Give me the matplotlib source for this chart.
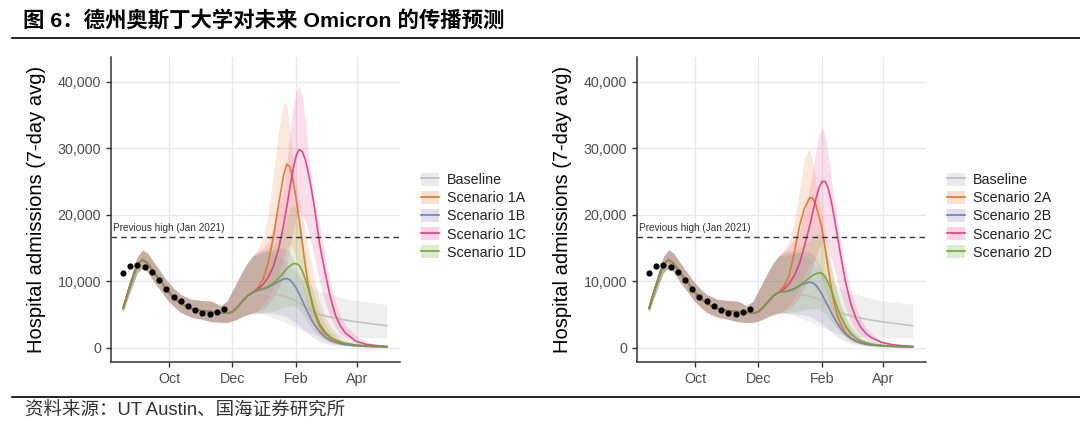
import datetime
import numpy as np
import matplotlib
matplotlib.use("Agg")
import matplotlib.pyplot as plt
import matplotlib.transforms as mtransforms
from matplotlib.patches import Patch
from matplotlib.lines import Line2D

plt.rcParams['font.family'] = ['Liberation Sans', 'Noto Sans CJK SC', 'DejaVu Sans']

# days counted from 2021-10-01
obs_days = [-45, -38, -31, -24, -17, -10, -3, 4, 11, 18, 25, 32, 39, 46, 53]
obs = [11300, 12300, 12400, 12150, 11400, 10150, 8800, 7550, 6950, 6250, 5600, 5150, 5000, 5400, 5850]

# model fit before the projections (same in every scenario)
fit_days = [-45, -40, -35, -31, -26, -21, -15, -8, -2, 5, 11, 21, 31, 41, 50, 56]
fit = [5900, 8500, 10800, 12500, 13250, 12650, 11300, 9900, 8600, 7400, 6650, 5900, 5550, 5400, 5300, 5200]
fit_lo = [5400, 7600, 9700, 11300, 12000, 11400, 9900, 8500, 7200, 6100, 5300, 4600, 4300, 3900, 3800, 3800]
fit_hi = [6500, 9300, 11900, 13700, 14700, 14200, 12800, 11300, 10000, 8800, 8000, 7300, 7100, 7000, 6300, 7000]

proj_days = [61, 66, 71, 76, 81, 86, 91, 96, 101, 106, 111, 114, 117, 120, 123, 126, 129, 132, 135, 138,
             141, 146, 151, 156, 161, 166, 171, 181, 191, 201, 211]

base = [5350, 6100, 6900, 7600, 8000, 8200, 8200, 8100, 8000, 7900, 7750, 7650, 7450, 7250, 7000, 6700, 6400,
        6100, 5800, 5550, 5300, 5000, 4800, 4600, 4450, 4300, 4150, 3900, 3700, 3500, 3300]
base_lo = [4000, 4300, 4700, 5000, 5200, 5200, 5000, 4800, 4500, 4200, 3900, 3700, 3500, 3300, 3100, 2900, 2700,
           2500, 2300, 2100, 2000, 1900, 1800, 1700, 1650, 1600, 1600, 1550, 1500, 1500, 1500]
base_hi = [8500, 10000, 11500, 12800, 13800, 14400, 14600, 14500, 14200, 13800, 13300, 12800, 12300, 11800, 11300,
           10800, 10300, 9900, 9500, 9200, 8900, 8500, 8200, 8000, 7800, 7600, 7400, 7100, 6900, 6700, 6500]

# left panel
s1a = [5350, 6100, 7000, 7800, 8300, 9000, 10300, 12800, 16600, 21500, 26000, 27600, 27200, 25300, 22500, 19300,
       15800, 12300, 9300, 6900, 5100, 3200, 2100, 1400, 1000, 750, 580, 380, 250, 200, 150]
s1a_lo = [4000, 4300, 4700, 5000, 5200, 5600, 6500, 7500, 9000, 11000, 13500, 15000, 15500, 15000, 13500, 11500,
          9500, 7500, 5800, 4400, 3300, 2000, 1300, 900, 650, 500, 400, 250, 150, 100, 80]
s1a_hi = [8500, 10000, 11500, 12800, 13800, 14800, 16500, 20000, 26000, 32500, 37000, 36500, 33000, 28500, 24500,
          22000, 20000, 17500, 15000, 12500, 10200, 7000, 4800, 3300, 2300, 1700, 1300, 800, 500, 350, 250]

s1b = [5350, 6100, 7000, 7800, 8300, 8600, 8800, 9100, 9500, 9950, 10350, 10400, 10200, 9700, 9000, 8100, 7100,
       6100, 5100, 4200, 3400, 2400, 1600, 1100, 800, 600, 450, 300, 200, 150, 100]
s1b_lo = [4000, 4300, 4700, 5000, 5200, 5200, 5200, 5200, 5100, 5000, 4800, 4600, 4300, 4000, 3700, 3300, 2900,
          2500, 2100, 1700, 1400, 1000, 700, 500, 350, 250, 200, 120, 80, 60, 50]
s1b_hi = [8500, 10000, 11500, 12800, 13800, 14000, 14300, 14500, 14800, 15000, 15000, 14800, 14300, 13500, 12500,
          11200, 9800, 8500, 7200, 6000, 5000, 3600, 2600, 1900, 1400, 1000, 800, 500, 300, 200, 150]

s1c = [5350, 6100, 7000, 7800, 8300, 8800, 9500, 10600, 12200, 14800, 18500, 21200, 24000, 26700, 28800, 29800,
       29500, 28300, 26300, 23800, 21000, 15500, 11500, 7800, 5000, 3300, 2200, 1000, 500, 300, 200]
s1c_lo = [4000, 4300, 4700, 5000, 5200, 5500, 5800, 6500, 7500, 9000, 10500, 12500, 15000, 17500, 19500, 20500,
          20000, 19000, 17500, 15500, 13500, 10000, 7000, 4700, 3100, 2100, 1500, 700, 350, 200, 150]
s1c_hi = [8500, 10000, 11500, 12800, 13800, 14500, 15000, 16000, 18000, 21000, 24000, 28000, 32000, 36000, 38500,
          39400, 38000, 34000, 29000, 25000, 22000, 18500, 14000, 10000, 7000, 4800, 3400, 1800, 900, 500, 350]

s1d = [5350, 6100, 7000, 7800, 8300, 8700, 8900, 9200, 9700, 10400, 11300, 11900, 12300, 12600, 12650, 12400,
       11600, 10300, 8800, 7300, 5500, 3600, 2400, 1600, 1200, 900, 650, 400, 250, 200, 150]
s1d_lo = [4000, 4300, 4700, 5000, 5200, 5200, 5300, 5400, 5500, 5700, 6000, 6200, 6300, 6300, 6100, 5700, 5100,
          4400, 3700, 3000, 2400, 1600, 1100, 750, 550, 400, 300, 200, 120, 100, 80]
s1d_hi = [8500, 10000, 11500, 12800, 13800, 14000, 14500, 15000, 15500, 16500, 18000, 19500, 20800, 21500, 21000,
          19000, 16500, 14000, 11500, 9300, 7500, 5200, 3600, 2500, 1800, 1300, 1000, 600, 400, 300, 200]

# right panel
s2a = [5350, 6100, 7000, 7800, 8300, 9200, 10800, 14200, 18200, 21000, 22500, 22500, 21500, 19800, 17900, 15000,
       12000, 9000, 6600, 4800, 3600, 2200, 1500, 1000, 750, 550, 450, 300, 220, 170, 150]
s2a_lo = [4000, 4300, 4700, 5000, 5200, 5600, 6500, 7500, 9000, 11000, 12500, 13000, 12800, 11800, 10300, 8700,
          7200, 5800, 4500, 3500, 2700, 1700, 1100, 750, 500, 380, 300, 200, 120, 90, 70]
s2a_hi = [8500, 10000, 11500, 12800, 13800, 14800, 16000, 19000, 23500, 28500, 30000, 28000, 25000, 22500, 20000,
          17500, 15000, 12500, 10000, 8000, 6300, 4200, 2900, 2000, 1400, 1000, 750, 450, 300, 200, 150]

s2b = [5350, 6100, 7000, 7800, 8300, 8400, 8600, 8900, 9300, 9650, 9850, 9750, 9400, 8800, 8000, 7100, 6200, 5300,
       4400, 3600, 2900, 2000, 1400, 1000, 700, 500, 400, 250, 180, 130, 100]
s2b_lo = [4000, 4300, 4700, 5000, 5200, 5200, 5200, 5100, 5000, 4900, 4700, 4500, 4200, 3900, 3600, 3200, 2800,
          2400, 2000, 1650, 1350, 950, 650, 450, 330, 240, 180, 110, 80, 60, 50]
s2b_hi = [8500, 10000, 11500, 12800, 13800, 13800, 14000, 14200, 14400, 14500, 14400, 14100, 13500, 12700, 11600,
          10400, 9100, 7900, 6700, 5600, 4700, 3400, 2500, 1800, 1300, 950, 750, 450, 300, 200, 150]

s2c = [5350, 6100, 7000, 7800, 8300, 8800, 9600, 10800, 12600, 15300, 18300, 20300, 22300, 24000, 25000, 25000,
       24000, 22000, 19500, 16800, 14000, 9800, 6600, 4400, 3000, 2100, 1500, 800, 450, 300, 200]
s2c_lo = [4000, 4300, 4700, 5000, 5200, 5500, 5800, 6500, 7500, 9000, 11000, 12300, 13800, 15000, 15800, 15800,
          15000, 13500, 11800, 10000, 8300, 5800, 3900, 2600, 1800, 1200, 850, 450, 250, 160, 120]
s2c_hi = [8500, 10000, 11500, 12800, 13800, 14500, 15200, 16200, 17500, 20500, 24000, 26500, 29500, 32000, 33200,
          32000, 29000, 25500, 22000, 19000, 16000, 11800, 8500, 6000, 4200, 3000, 2100, 1100, 600, 400, 280]

s2d = [5350, 6100, 7000, 7800, 8300, 8400, 8500, 8800, 9300, 9900, 10500, 10900, 11100, 11250, 11200, 10700, 9800,
       8600, 7300, 6000, 4800, 3200, 2100, 1400, 1000, 750, 550, 350, 250, 180, 150]
s2d_lo = [4000, 4300, 4700, 5000, 5200, 5200, 5300, 5400, 5500, 5700, 5800, 5900, 5900, 5800, 5500, 5100, 4600,
          4000, 3400, 2800, 2250, 1500, 1000, 700, 500, 380, 290, 180, 120, 90, 70]
s2d_hi = [8500, 10000, 11500, 12800, 13800, 14000, 14300, 14600, 15000, 15500, 16000, 16500, 17000, 17200, 16800,
          15500, 13800, 12000, 10000, 8300, 6800, 4800, 3300, 2300, 1600, 1200, 900, 550, 350, 250, 180]

labels1 = ["Baseline", "Scenario 1A", "Scenario 1B", "Scenario 1C", "Scenario 1D"]
labels2 = ["Baseline", "Scenario 2A", "Scenario 2B", "Scenario 2C", "Scenario 2D"]
prev_high = 16600

colores = ["#A0A0A0", "#E8762A", "#7570B3", "#E5328A", "#66A61E"]
colores_linea = ["#BDBDBD", "#E07428", "#7B78B8", "#DE3A7E", "#6FA63A"]
alfa = 0.16

day0 = datetime.date(2021, 10, 1)


def fechas(days):
    return [day0 + datetime.timedelta(days=int(d)) for d in days]


def panel(ax, series, labels):
    x = fechas(fit_days + proj_days)
    # ribbons first, then lines
    for (y, lo, hi), c in zip(series, colores):
        ax.fill_between(x, fit_lo + lo, fit_hi + hi, color=c, alpha=alfa, lw=0, zorder=1)
    for (y, lo, hi), c in zip(series, colores_linea):
        ax.plot(x, fit + y, color=c, lw=1.2, alpha=0.9, zorder=3)
    ax.scatter(fechas(obs_days), obs, s=20, color="black", zorder=5, lw=0)

    ax.axhline(prev_high, color="#333333", lw=1.0, ls=(0, (4, 3)), zorder=4)
    trans = mtransforms.blended_transform_factory(ax.transAxes, ax.transData)
    ax.text(0.008, prev_high + 600, "Previous high (Jan 2021)", transform=trans, fontsize=7.2,
            color="#333333", va="bottom", ha="left")

    ax.set_xlim(day0 - datetime.timedelta(days=57.8), day0 + datetime.timedelta(days=224.2))
    ax.set_ylim(-2200, 43760)
    ax.set_xticks(fechas([0, 61, 123, 182]))
    ax.set_xticklabels(["Oct", "Dec", "Feb", "Apr"])
    ax.set_yticks([0, 10000, 20000, 30000, 40000])
    ax.set_yticklabels(["0", "10,000", "20,000", "30,000", "40,000"])
    ax.grid(color="#E8E6EF", lw=0.9)
    ax.set_axisbelow(True)
    for s in ["top", "right"]:
        ax.spines[s].set_visible(False)
    for s in ["left", "bottom"]:
        ax.spines[s].set_color("#333333")
        ax.spines[s].set_linewidth(1.1)
    ax.tick_params(direction="out", length=3.5, width=1, color="#333333", labelcolor="#4D4D4D", labelsize=10.3)
    ax.set_ylabel("Hospital admissions (7-day avg)", fontsize=14.5)
    ax.yaxis.set_label_coords(-0.222, 0.5)

    handles = []
    for c, cl in zip(colores, colores_linea):
        handles.append((Patch(facecolor=c, alpha=0.22, lw=0), Line2D([], [], color=cl, lw=1.2)))
    return handles, labels


fig = plt.figure(figsize=(10.8, 4.36), dpi=100)
ax1 = fig.add_axes([0.1025, 0.169, 0.2679, 0.701])
ax2 = fig.add_axes([0.5895, 0.169, 0.2679, 0.701])

series1 = [(base, base_lo, base_hi), (s1a, s1a_lo, s1a_hi), (s1b, s1b_lo, s1b_hi),
           (s1c, s1c_lo, s1c_hi), (s1d, s1d_lo, s1d_hi)]
series2 = [(base, base_lo, base_hi), (s2a, s2a_lo, s2a_hi), (s2b, s2b_lo, s2b_hi),
           (s2c, s2c_lo, s2c_hi), (s2d, s2d_lo, s2d_hi)]

h1, l1 = panel(ax1, series1, labels1)
h2, l2 = panel(ax2, series2, labels2)

for h, l, xpos in [(h1, l1, 0.383), (h2, l2, 0.870)]:
    fig.legend(h, l, loc="upper left", bbox_to_anchor=(xpos, 0.62), frameon=False, fontsize=10.3,
               handlelength=1.3, handleheight=1.0, handletextpad=0.5, labelspacing=0.27, borderpad=0,
               labelcolor="#222222")

# title, rules and source
fig.text(0.021, 0.953, "图 6：德州奥斯丁大学对未来 Omicron 的传播预测", fontsize=15.4, fontweight="bold",
         va="center", ha="left")
fig.add_artist(Line2D([0.011, 1.0], [0.9128, 0.9128], color="black", lw=1.2))
fig.add_artist(Line2D([0.011, 1.0], [0.0894, 0.0894], color="black", lw=1.2))
fig.text(0.023, 0.058, "资料来源：UT Austin、国海证券研究所", fontsize=13.3, color="#333333", va="center", ha="left")

fig.savefig("out.png", dpi=100)
